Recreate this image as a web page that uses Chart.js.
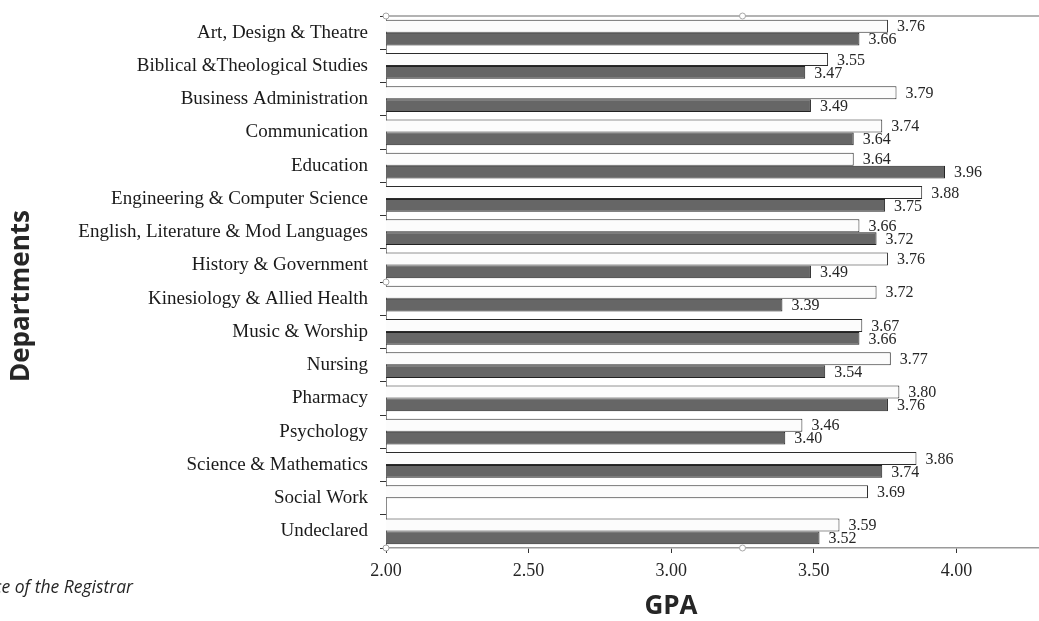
<!DOCTYPE html>
<html>
<head>
<meta charset="utf-8">
<script src="https://cdn.jsdelivr.net/npm/chart.js@4.4.0/dist/chart.umd.min.js"></script>
<style>
  html, body { margin: 0; padding: 0; background: #fff; overflow: hidden; }
  #wrap { position: relative; width: 1100px; height: 621px; }
</style>
</head>
<body>
<div id="wrap"><canvas id="gpaChart"></canvas></div>
<script>
// Departments (top to bottom)
const departments = [
  'Art, Design & Theatre',
  'Biblical &Theological Studies',
  'Business Administration',
  'Communication',
  'Education',
  'Engineering & Computer Science',
  'English, Literature & Mod Languages',
  'History & Government',
  'Kinesiology & Allied Health',
  'Music & Worship',
  'Nursing',
  'Pharmacy',
  'Psychology',
  'Science & Mathematics',
  'Social Work',
  'Undeclared'
];

// White bars
const gpaSeries1 = [3.76, 3.55, 3.79, 3.74, 3.64, 3.88, 3.66, 3.76, 3.72, 3.67, 3.77, 3.80, 3.46, 3.86, 3.69, 3.59];
// Dark bars (no value for Social Work)
const gpaSeries2 = [3.66, 3.47, 3.49, 3.64, 3.96, 3.75, 3.72, 3.49, 3.39, 3.66, 3.54, 3.76, 3.40, 3.74, null, 3.52];

// GPA axis ticks (axis runs on to 4.50, past the right edge)
const gpaTicks = [2.00, 2.50, 3.00, 3.50, 4.00];

const serif = "'Liberation Serif', 'Times New Roman', serif";
const sans = "'Open Sans', 'Noto Sans', sans-serif";

// Value labels next to each bar
const valueLabels = {
  id: 'valueLabels',
  afterDatasetsDraw(chart) {
    const ctx = chart.ctx;
    ctx.save();
    ctx.font = '16px ' + serif;
    ctx.fillStyle = '#262626';
    ctx.textAlign = 'left';
    ctx.textBaseline = 'middle';
    chart.data.datasets.forEach((ds, i) => {
      const meta = chart.getDatasetMeta(i);
      meta.data.forEach((bar, j) => {
        const v = ds.data[j];
        if (v == null) return;
        ctx.fillText(v.toFixed(2), bar.x + 9, bar.y + 1);
      });
    });
    ctx.restore();
  }
};

// Frame line on top, selection handles, axis titles and source note
const extras = {
  id: 'extras',
  afterDraw(chart) {
    const ctx = chart.ctx;
    const a = chart.chartArea;
    ctx.save();
    // top border of plot area
    ctx.strokeStyle = '#9a9a9a';
    ctx.lineWidth = 1.5;
    ctx.beginPath();
    ctx.moveTo(a.left, a.top);
    ctx.lineTo(a.right, a.top);
    ctx.stroke();

    // little handles round the plot area
    const midX = (a.left + a.right) / 2;
    const midY = (a.top + a.bottom) / 2;
    [[a.left, a.top], [midX, a.top], [a.left, midY], [a.left, a.bottom], [midX, a.bottom]].forEach(p => {
      ctx.beginPath();
      ctx.arc(p[0], p[1], 3, 0, Math.PI * 2);
      ctx.fillStyle = '#fff';
      ctx.fill();
      ctx.strokeStyle = '#a6a6a6';
      ctx.lineWidth = 1;
      ctx.stroke();
    });

    // axis titles
    ctx.fillStyle = '#262626';
    ctx.font = 'bold 26px ' + sans;
    ctx.textAlign = 'center';
    ctx.textBaseline = 'middle';
    ctx.fillText('GPA', 671, 607);
    ctx.save();
    ctx.translate(22, 296);
    ctx.rotate(-Math.PI / 2);
    ctx.fillText('Departments', 0, 0);
    ctx.restore();

    // source note (cut by the left edge)
    ctx.font = 'italic 17.5px ' + sans;
    ctx.textAlign = 'right';
    ctx.fillText('Source: Office of the Registrar', 133, 588);
    ctx.restore();
  }
};

new Chart(document.getElementById('gpaChart'), {
  type: 'bar',
  data: {
    labels: departments,
    datasets: [
      {
        label: 'Series 1',
        data: gpaSeries1,
        backgroundColor: '#fcfcfc',
        borderColor: '#2b2b2b',
        borderWidth: 1,
        borderSkipped: 'start'
      },
      {
        label: 'Series 2',
        data: gpaSeries2,
        backgroundColor: '#666666',
        borderColor: '#222222',
        borderWidth: 1,
        borderSkipped: 'start'
      }
    ]
  },
  options: {
    indexAxis: 'y',
    responsive: true,
    maintainAspectRatio: false,
    animation: false,
    categoryPercentage: 0.78,
    barPercentage: 1.0,
    layout: { padding: { top: 16, left: 0, right: 1, bottom: 0 } },
    plugins: {
      legend: { display: false },
      tooltip: { enabled: false },
      title: { display: false }
    },
    scales: {
      x: {
        type: 'linear',
        min: 2.0,
        max: 4.5,
        afterBuildTicks(scale) {
          scale.ticks = gpaTicks.map(v => ({ value: v }));
        },
        afterFit(scale) { scale.height = 73; },
        border: { display: true, color: '#9a9a9a', width: 1.5 },
        grid: { drawOnChartArea: false, drawTicks: true, tickLength: 5, color: '#333' },
        ticks: {
          padding: 7,
          color: '#262626',
          font: { family: serif, size: 18 },
          callback: v => Number(v).toFixed(2)
        }
      },
      y: {
        afterFit(scale) {
          scale.width = 386;
          scale.paddingTop = 0;
          scale.paddingBottom = 0;
        },
        border: { display: true, color: '#8a8a8a', width: 1 },
        grid: { drawOnChartArea: false, drawTicks: true, tickLength: 6, color: '#333', offset: true },
        ticks: {
          padding: 12,
          color: '#1a1a1a',
          font: { family: serif, size: 19 }
        }
      }
    }
  },
  plugins: [valueLabels, extras]
});
</script>
</body>
</html>
